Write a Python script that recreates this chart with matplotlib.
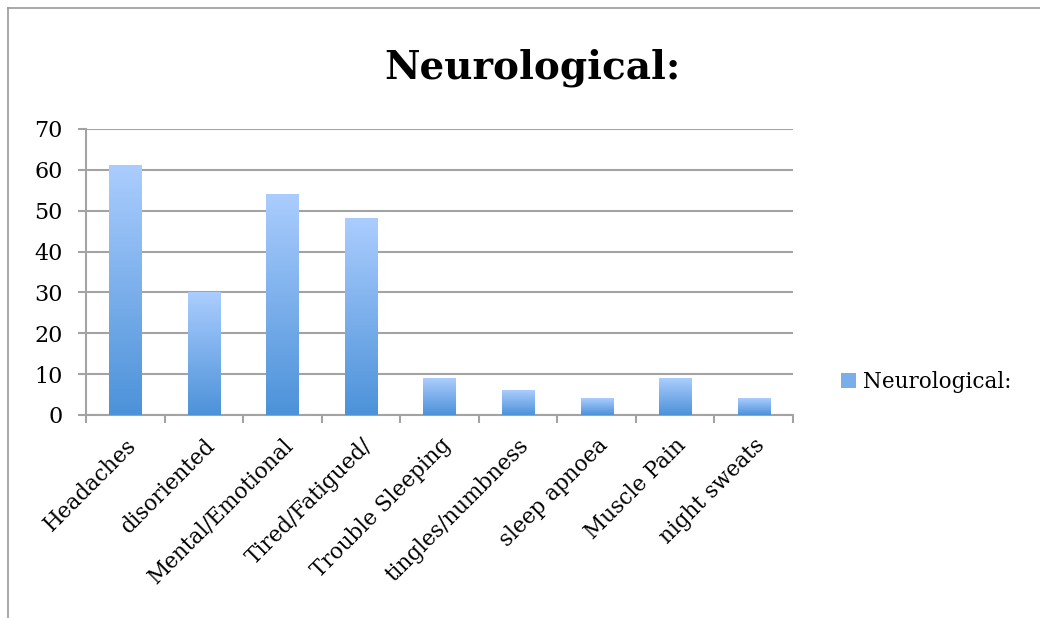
import numpy as np
import matplotlib
matplotlib.use("Agg")
import matplotlib.pyplot as plt
from matplotlib.colors import LinearSegmentedColormap
from matplotlib.patches import Patch
from matplotlib.lines import Line2D

categories = ["Headaches", "disoriented", "Mental/Emotional", "Tired/Fatigued/",
              "Trouble Sleeping", "tingles/numbness", "sleep apnoea",
              "Muscle Pain", "night sweats"]
values = [61, 30, 54, 48, 9, 6, 4, 9, 4]
series_name = "Neurological:"

plt.rcParams['font.family'] = ['DejaVu Serif']

fig = plt.figure(figsize=(10.4, 6.18), dpi=100)
ax = fig.add_axes([0.0827, 0.3285, 0.6798, 0.4628])

x = np.arange(len(categories))
bars = ax.bar(x, values, width=0.41, color="none", edgecolor="none", zorder=3)

# gradient fill, light at top, darker at bottom
cmap = LinearSegmentedColormap.from_list("grad", ["#4c92d9", "#abcdfe"])
grad = np.linspace(0, 1, 256).reshape(-1, 1)
for b in bars:
    x0, w, h = b.get_x(), b.get_width(), b.get_height()
    ax.imshow(grad, cmap=cmap, origin="lower", aspect="auto",
              extent=[x0, x0 + w, 0, h], zorder=3)

ax.set_xlim(-0.5, len(categories) - 0.5)
ax.set_ylim(0, 70)
ax.set_yticks(range(0, 71, 10))
ax.yaxis.grid(True, color="#a3a3a3", linewidth=1.5, zorder=0)
ax.set_axisbelow(True)

for s in ["top", "right"]:
    ax.spines[s].set_visible(False)
for s in ["left", "bottom"]:
    ax.spines[s].set_color("#a3a3a3")
    ax.spines[s].set_linewidth(1.5)

ax.set_xticks(x)
ax.set_xticklabels(categories, rotation=45, ha="right", rotation_mode="anchor",
                   fontsize=15.5)
ax.tick_params(axis="x", which="major", length=0, pad=14)
ax.set_xticks(np.arange(-0.5, len(categories)), minor=True)
ax.tick_params(axis="x", which="minor", length=6, width=1.5, color="#a3a3a3")
ax.tick_params(axis="y", length=6, width=1.5, color="#a3a3a3", labelsize=16, pad=11)

fig.text(0.512, 0.89, "Neurological:", ha="center", va="center",
         fontsize=28, fontweight="bold")

handle = Patch(facecolor="#7aaeea", edgecolor="none")
fig.legend([handle], [series_name], loc="center left",
           bbox_to_anchor=(0.79, 0.3825), frameon=False, fontsize=15.5,
           handlelength=0.7, handleheight=0.7, handletextpad=0.3)

# chart border (partially visible)
fig.add_artist(Line2D([0.0075, 0.0075], [0, 0.987], color="#999999", linewidth=1.2))
fig.add_artist(Line2D([0.0075, 1.0], [0.987, 0.987], color="#999999", linewidth=1.2))

fig.savefig("out.png", dpi=100)
